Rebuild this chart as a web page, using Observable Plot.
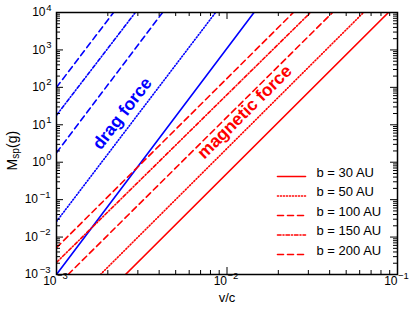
<!DOCTYPE html>
<html><head><meta charset="utf-8">
<script src="https://cdn.jsdelivr.net/npm/d3@7"></script>
<script src="https://cdn.jsdelivr.net/npm/@observablehq/plot@0.6"></script>
<style>body{margin:0;background:#fff;}</style>
</head><body><div id="chart"></div>
<script>
// ---- data ----
const seriesLabels = ["b = 30 AU", "b = 50 AU", "b = 100 AU", "b = 150 AU", "b = 200 AU"];
// drag force (blue): two end points per line
const dragX0 = [0.001, 0.001, 0.001, 0.001, 0.001];
const dragY0 = [0.001, 0.026, 1.8, 18, 100];
const dragX1 = [0.0144, 0.00857, 0.00419, 0.0029, 0.00216];
const dragY1 = [1e4, 1e4, 1e4, 1e4, 1e4];
// magnetic force (red)
const magX0 = [0.00254, 0.00181, 0.00117, 0.001, 0.001];
const magY0 = [0.001, 0.001, 0.001, 0.0021, 0.0052];
const magX1 = [0.0885, 0.0632, 0.0416, 0.0309, 0.0245];
const magY1 = [1e4, 1e4, 1e4, 1e4, 1e4];
// axis ticks
const xMajor = [1e-3, 1e-2, 1e-1];
const xExp = ["\u22123", "\u22122", "\u22121"];
const yMajor = [1e-3, 1e-2, 1e-1, 1e0, 1e1, 1e2, 1e3, 1e4];
const yExp = ["\u22123", "\u22122", "\u22121", "0", "1", "2", "3", "4"];
const annotations = [
  {text: "drag force", x: 0.00243, y: 20},
  {text: "magnetic force", x: 0.0127, y: 22}
];

// ---- styling ----
const W = 416, H = 314, mL = 56, mR = 19, mT = 12, mB = 40;
const iw = W - mL - mR, ih = H - mT - mB;
const dashes = [null, "1,2", "6,4", "3.5,2,1,2", "6,4"];
const font = "'Liberation Sans', Arial, Helvetica, sans-serif";

const xMinor = [];
xMajor.slice(0, -1).forEach(m => { for (let k = 2; k <= 9; k++) xMinor.push(m * k); });
const yMinor = [];
yMajor.slice(0, -1).forEach(m => { for (let k = 2; k <= 9; k++) yMinor.push(m * k); });

const marks = [];
function addLines(X0, Y0, X1, Y1, color) {
  seriesLabels.forEach((lab, i) => {
    const pts = [{x: X0[i], y: Y0[i]}, {x: X1[i], y: Y1[i]}];
    marks.push(Plot.line(pts, {x: "x", y: "y", stroke: color, strokeWidth: 1.6,
      strokeDasharray: dashes[i] || undefined, clip: true}));
  });
}
addLines(dragX0, dragY0, dragX1, dragY1, "#0000ff");
addLines(magX0, magY0, magX1, magY1, "#ff0000");

// inward ticks on four sides
const tk = {stroke: "#000", strokeWidth: 1};
const majL = 7, minL = 4;
marks.push(
  Plot.ruleX(xMinor, {x: d => d, insetTop: ih - minL, ...tk}),
  Plot.ruleX(xMajor, {x: d => d, insetTop: ih - majL, ...tk}),
  Plot.ruleX(xMinor, {x: d => d, insetBottom: ih - minL, ...tk}),
  Plot.ruleX(xMajor, {x: d => d, insetBottom: ih - majL, ...tk}),
  Plot.ruleY(yMinor, {y: d => d, insetRight: iw - minL, ...tk}),
  Plot.ruleY(yMajor, {y: d => d, insetRight: iw - majL, ...tk}),
  Plot.ruleY(yMinor, {y: d => d, insetLeft: iw - minL, ...tk}),
  Plot.ruleY(yMajor, {y: d => d, insetLeft: iw - majL, ...tk}),
  Plot.frame({stroke: "#000", strokeWidth: 1.5})
);

// tick labels (10 with superscript exponent)
const xl = xMajor.map((v, i) => ({v, e: xExp[i]}));
marks.push(
  Plot.text(xl, {x: "v", text: () => "10", frameAnchor: "bottom", textAnchor: "end", dy: 10, fontSize: 12, fill: "#000"}),
  Plot.text(xl, {x: "v", text: "e", frameAnchor: "bottom", textAnchor: "start", dx: 0.5, dy: 4, fontSize: 9.5, fill: "#000"})
);
const yl = yMajor.map((v, i) => ({v, e: yExp[i]}));
const ylPos = yl.filter(d => !d.e.startsWith("\u2212"));
const ylNeg = yl.filter(d => d.e.startsWith("\u2212"));
marks.push(
  Plot.text(ylPos, {y: "v", text: () => "10", frameAnchor: "left", textAnchor: "end", dx: -11, fontSize: 12, fill: "#000"}),
  Plot.text(ylPos, {y: "v", text: "e", frameAnchor: "left", textAnchor: "end", dx: -5, dy: -5, fontSize: 9.5, fill: "#000"}),
  Plot.text(ylNeg, {y: "v", text: () => "10", frameAnchor: "left", textAnchor: "end", dx: -18.5, fontSize: 12, fill: "#000"}),
  Plot.text(ylNeg, {y: "v", text: "e", frameAnchor: "left", textAnchor: "end", dx: -6, dy: -5, fontSize: 9.5, fill: "#000"})
);

// axis titles
marks.push(
  Plot.text(["v/c"], {text: d => d, frameAnchor: "bottom", dy: 27, fontSize: 13, fill: "#000"}),
  Plot.text(["M"], {text: d => d, frameAnchor: "left", dx: -44, dy: 27, rotate: -90, textAnchor: "start", fontSize: 14, fill: "#000"}),
  Plot.text(["sp"], {text: d => d, frameAnchor: "left", dx: -40.5, dy: 15.2, rotate: -90, textAnchor: "start", fontSize: 10, fill: "#000"}),
  Plot.text(["(g)"], {text: d => d, frameAnchor: "left", dx: -44, dy: 4.5, rotate: -90, textAnchor: "start", fontSize: 14, fill: "#000"})
);

// annotations
marks.push(
  Plot.text([annotations[0]], {x: "x", y: "y", text: "text", rotate: -52.5, fontSize: 17.5, fontWeight: "bold", fill: "#0000ff"}),
  Plot.text([annotations[1]], {x: "x", y: "y", text: "text", rotate: -44.6, fontSize: 17.5, fontWeight: "bold", fill: "#ff0000"})
);

// legend (inside, bottom right)
const lineShape = {draw(c, l) { c.moveTo(0, 0); c.lineTo(0, -l); }};
const rowDy = [-98, -78.5, -59, -39.5, -20];
seriesLabels.forEach((lab, i) => {
  marks.push(
    Plot.vector([lab], {frameAnchor: "bottom-right", dx: -120, dy: rowDy[i], length: 28, rotate: 90, anchor: "start",
      shape: lineShape, stroke: "#ff0000", strokeWidth: 1.6, strokeDasharray: dashes[i] || undefined}),
    Plot.text([lab], {text: d => d, frameAnchor: "bottom-right", dx: -81, dy: rowDy[i], textAnchor: "start", fontSize: 13, fill: "#000"})
  );
});

const chart = Plot.plot({
  width: W, height: H,
  marginLeft: mL, marginRight: mR, marginTop: mT, marginBottom: mB,
  style: {fontFamily: font, background: "#fff", overflow: "visible"},
  x: {type: "log", domain: [1e-3, 1e-1], axis: null},
  y: {type: "log", domain: [1e-3, 1e4], axis: null},
  marks
});
document.getElementById("chart").appendChild(chart);
</script>
</body></html>
